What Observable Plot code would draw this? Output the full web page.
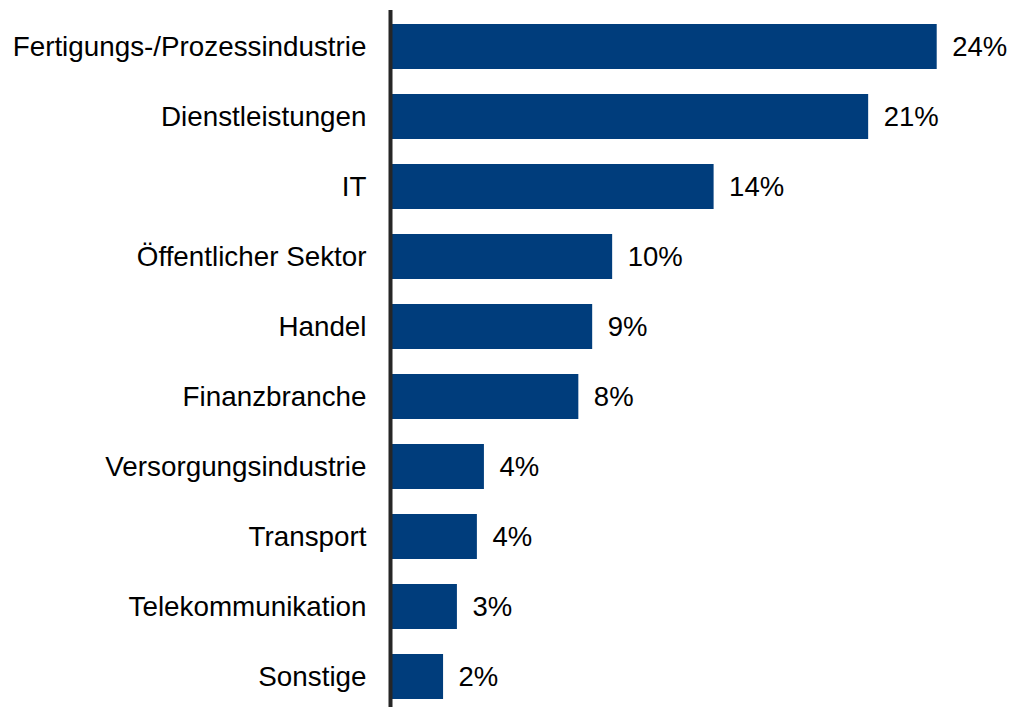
<!DOCTYPE html>
<html>
<head>
<meta charset="utf-8">
<script src="https://cdn.jsdelivr.net/npm/d3@7"></script>
<script src="https://cdn.jsdelivr.net/npm/@observablehq/plot@0.6"></script>
<style>
  html, body { margin: 0; padding: 0; background: #fff; }
  svg { display: block; }
</style>
</head>
<body>
<div id="chart"></div>
<script>
const categories = [
  "Fertigungs-/Prozessindustrie",
  "Dienstleistungen",
  "IT",
  "Öffentlicher Sektor",
  "Handel",
  "Finanzbranche",
  "Versorgungsindustrie",
  "Transport",
  "Telekommunikation",
  "Sonstige"
];
const values = [24, 20.98, 14.17, 9.70, 8.82, 8.21, 4.05, 3.74, 2.86, 2.25];
const labels = ["24%", "21%", "14%", "10%", "9%", "8%", "4%", "4%", "3%", "2%"];

const data = categories.map((c, i) => ({category: c, value: values[i], label: labels[i]}));

const chart = Plot.plot({
  width: 1009,
  height: 707,
  marginLeft: 392,
  marginRight: 49.6,
  marginTop: 10,
  marginBottom: 0,
  style: {fontFamily: "Arial, 'Liberation Sans', sans-serif", fontSize: "27px", color: "#000", background: "#fff"},
  x: {domain: [0, 25], axis: null},
  y: {domain: categories, range: [-3, 725.3], padding: 0.36, label: null},
  marks: [
    Plot.barX(data, {x: "value", y: "category", fill: "#003d7c"}),
    Plot.text(data, {x: "value", y: "category", text: "label", textAnchor: "start", dx: 15, fontSize: 27.5, fill: "#000"}),
    Plot.axisY({tickSize: 0, tickPadding: 26, fontSize: 27.8, label: null, fill: "#000"}),
    Plot.ruleX([0], {stroke: "#262626", strokeWidth: 4, dx: -2})
  ]
});
document.getElementById("chart").appendChild(chart);
</script>
</body>
</html>
